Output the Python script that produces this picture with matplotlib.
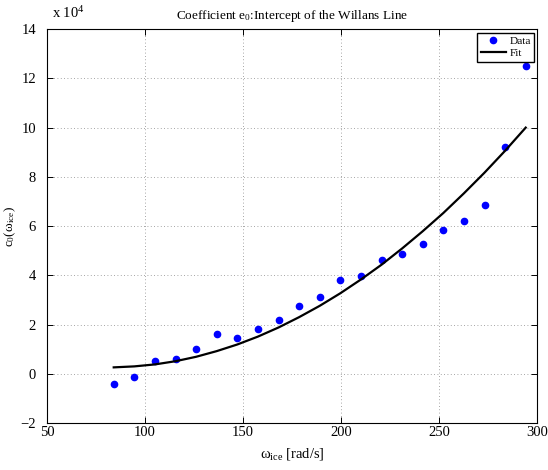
import numpy as np
import matplotlib
matplotlib.use("Agg")
import matplotlib.pyplot as plt
from matplotlib.ticker import FuncFormatter

# engine speed [rad/s]
omega_ice = [84.0, 94.5, 105.0, 115.5, 126.0, 136.5, 147.0, 157.5, 168.0, 178.5, 189.0,
             199.5, 210.0, 220.5, 231.0, 241.5, 252.0, 262.5, 273.0, 283.5, 294.0]
# measured intercept values
c0_data = [-4300, -1200, 5200, 6100, 10000, 16300, 14700, 18300, 22000, 27500, 31100,
           38100, 39900, 46400, 48600, 52900, 58400, 62200, 68400, 92100, 125100]
# quadratic fit evaluated at the same speeds
c0_fit = [2600, 3000, 3800, 5100, 6900, 9200, 11900, 15100, 18800, 23000, 27600,
          32700, 38300, 44300, 50900, 57900, 65300, 73300, 81700, 90600, 100000]

plt.rcParams["font.family"] = ["Liberation Serif", "DejaVu Serif"]
plt.rcParams["mathtext.fontset"] = "custom"
plt.rcParams["mathtext.rm"] = "Liberation Serif"
plt.rcParams["mathtext.it"] = "Liberation Serif:italic"

fig = plt.figure(figsize=(5.48, 4.70), dpi=100)
ax = fig.add_axes([0.0858, 0.1, 0.895, 0.838])

ax.plot(omega_ice, c0_data, "o", color="#0000ff", markersize=4.5, label="Data")
ax.plot(omega_ice, c0_fit, "-", color="black", linewidth=1.6, label="Fit")

ax.set_xlim(50, 300)
ax.set_ylim(-20000, 140000)
ax.set_xticks(np.arange(50, 301, 50))
ax.set_yticks(np.arange(-20000, 140001, 20000))
ax.yaxis.set_major_formatter(FuncFormatter(lambda v, p: f"{v / 1e4:g}".replace("-", "\u2212")))
ax.tick_params(direction="in", top=True, right=True, labelsize=10.5, length=4, width=0.7)
ax.tick_params(axis="y", pad=8)
ax.tick_params(axis="x", pad=2)
ax.grid(True, linestyle=(0, (1, 3)), color="#888888", linewidth=0.6)
for s in ax.spines.values():
    s.set_linewidth(0.8)

ax.text(0.01, 1.02, r"x 10$^{4}$", transform=ax.transAxes, fontsize=10.5, ha="left", va="bottom")
ax.set_title(r"Coefficient e$_{0}$:Intercept of the Willans Line", fontsize=9.5, pad=7)
ax.set_xlabel(r"$\mathrm{\omega_{ice}}$ [rad/s]", fontsize=10.5, labelpad=5)
ax.set_ylabel(r"c$_0$($\mathrm{\omega_{ice}}$)", fontsize=9.5, labelpad=2)

leg = ax.legend(loc="upper right", fontsize=8.2, fancybox=False, framealpha=1,
                edgecolor="black", handlelength=2.2, borderpad=0.3, labelspacing=0.2,
                borderaxespad=0.3, handletextpad=0.3)
leg.get_frame().set_linewidth(1.0)

fig.savefig("out.png", dpi=100)
